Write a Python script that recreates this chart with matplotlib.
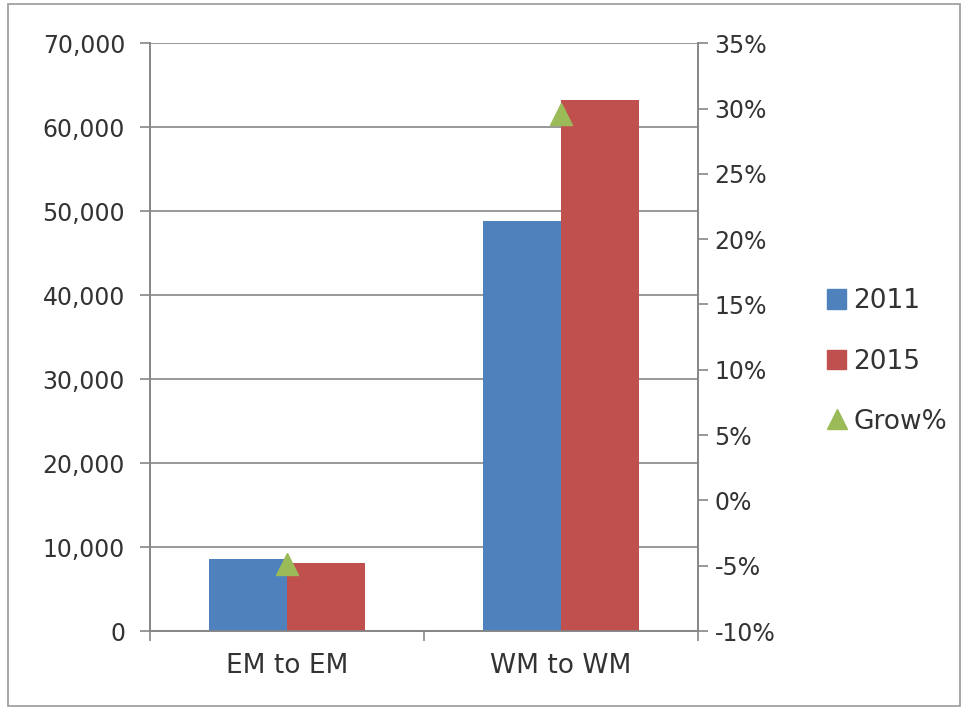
import matplotlib
matplotlib.use("Agg")
import matplotlib.pyplot as plt
import numpy as np
from matplotlib.lines import Line2D
from matplotlib.patches import Patch, Rectangle
from matplotlib.ticker import FuncFormatter

categories = ["EM to EM", "WM to WM"]
values_2011 = [8600, 48800]
values_2015 = [8100, 63300]
grow_pct = [-4.9, 29.6]

plt.rcParams['font.family'] = ['DejaVu Sans']

fig = plt.figure(figsize=(9.68, 7.09), dpi=100)
ax = fig.add_axes([0.155, 0.110, 0.566, 0.829])
ax2 = ax.twinx()

x = np.arange(len(categories))
w = 0.285
c_blue = "#4F81BD"
c_red = "#C0504D"
c_green = "#9BBB59"
grid_c = "#868686"
txt_c = "#333333"

ax.bar(x - w/2, values_2011, width=w, color=c_blue, zorder=3)
ax.bar(x + w/2, values_2015, width=w, color=c_red, zorder=3)
ax2.plot(x, grow_pct, linestyle='none', marker='^', markersize=16, color=c_green, zorder=4)

ax.set_xlim(-0.5, 1.5)
ax.set_ylim(0, 70000)
ax.set_yticks(np.arange(0, 70001, 10000))
ax.yaxis.set_major_formatter(FuncFormatter(lambda v, p: f"{int(v):,}"))
ax.yaxis.grid(True, color=grid_c, linewidth=1.2, zorder=0)
ax.set_axisbelow(True)

ax2.set_ylim(-10, 35)
ax2.set_yticks(np.arange(-10, 36, 5))
ax2.yaxis.set_major_formatter(FuncFormatter(lambda v, p: f"{int(v)}%"))

ax.set_xticks([-0.5, 0.5, 1.5])
ax.set_xticklabels([])
ax.set_xticks(x, minor=True)
ax.set_xticklabels(categories, minor=True)
ax.tick_params(axis='x', which='minor', length=0, pad=16, labelsize=19, colors=txt_c)
ax.tick_params(axis='x', which='major', length=7, color=grid_c, width=1.2)
ax.tick_params(axis='y', length=7, color=grid_c, width=1.2, labelsize=17, pad=11, labelcolor=txt_c)
ax2.tick_params(axis='y', length=7, color=grid_c, width=1.2, labelsize=17, pad=5, labelcolor=txt_c)

for a in (ax, ax2):
    a.spines['top'].set_visible(False)
    for s in ('left', 'right', 'bottom'):
        a.spines[s].set_color(grid_c)
        a.spines[s].set_linewidth(1.2)

handles = [Patch(color=c_blue, label="2011"),
           Patch(color=c_red, label="2015"),
           Line2D([], [], linestyle='none', marker='^', markersize=15, color=c_green, label="Grow%")]
leg = fig.legend(handles=handles, loc='center left', bbox_to_anchor=(0.854, 0.49),
                 frameon=False, fontsize=19, handlelength=0.75, handleheight=0.75,
                 handletextpad=0.25, labelspacing=1.3, borderpad=0, borderaxespad=0)
for t in leg.get_texts():
    t.set_color(txt_c)

fig.patches.append(Rectangle((0.008, 0.004), 0.984, 0.99, transform=fig.transFigure,
                             fill=False, edgecolor="#9a9a9a", linewidth=1.2))

fig.savefig("out.png", dpi=100)
